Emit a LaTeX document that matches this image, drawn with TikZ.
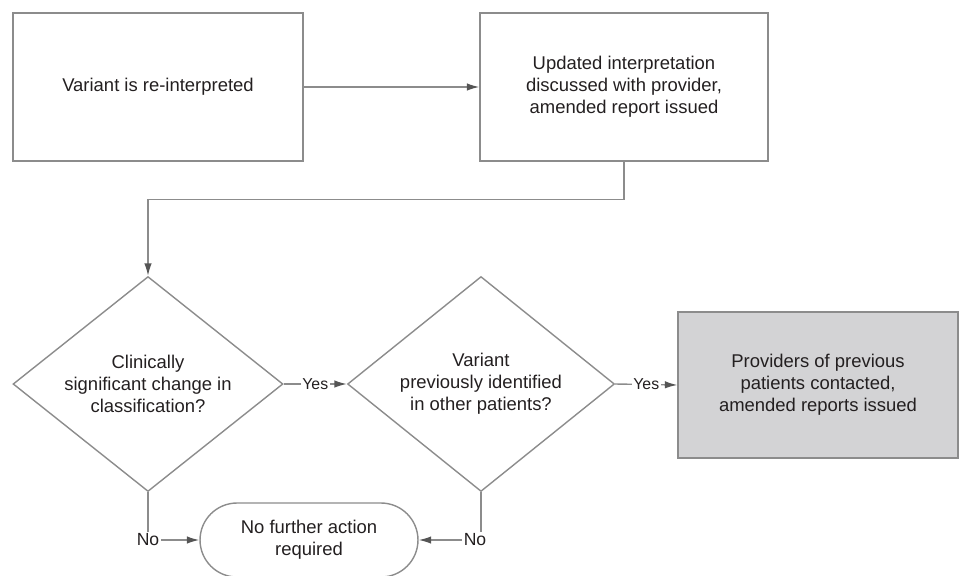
\documentclass[tikz,border=0pt]{standalone}
\usepackage{fontspec}
\setmainfont{Liberation Sans}
\usetikzlibrary{shapes,arrows.meta,positioning}
\definecolor{linegray}{HTML}{8C8C8C}
\definecolor{tipgray}{HTML}{555555}
\definecolor{txtgray}{HTML}{231F20}
\definecolor{boxfill}{HTML}{D3D3D5}

\begin{document}
\begin{tikzpicture}[x=0.02cm, y=-0.02cm,
	every node/.style={text=txtgray, font=\fontsize{10.5}{12.6}\selectfont, align=center},
	stepbox/.style={draw=linegray, line width=0.8pt, rectangle, minimum width=5.8cm, minimum height=2.96cm, inner sep=2pt},
	decision/.style={draw=linegray, line width=0.8pt, diamond, aspect=1.25, inner sep=0pt, minimum width=5.4cm, minimum height=4.3cm},
	endbox/.style={draw=linegray, line width=0.8pt, rectangle, rounded corners=0.74cm, minimum width=4.36cm, minimum height=1.48cm},
	yesno/.style={fill=white, inner sep=1pt, font=\fontsize{9}{10}\selectfont},
	nolabel/.style={inner sep=1pt, font=\fontsize{10}{11}\selectfont},
	link/.style={draw=linegray, line width=0.8pt, -{Latex[length=2.5mm, width=1.5mm, color=tipgray]}}]

	\useasboundingbox (0,0) rectangle (962,575);

	% top row
	\node[stepbox] (reint) at (158,87) {Variant is re-interpreted};
	\node[stepbox, minimum width=5.76cm] (upd) at (624,87) {Updated interpretation\\discussed with provider,\\amended report issued};

	% decisions
	\node[decision] (clin) at (148,384) {Clinically\\significant change in\\classification?};
	\node[decision, minimum width=5.34cm] (prev) at (481,384) {Variant\\previously identified\\in other patients?};
	\node[stepbox, fill=boxfill, minimum width=5.6cm, minimum height=2.92cm] (contact) at (818,385) {Providers of previous\\patients contacted,\\amended reports issued};

	% end
	\node[endbox] (noact) at (309,540) {No further action\\required};
	\node[nolabel] (no1) at (148,540) {No};
	\node[nolabel] (no2) at (475,540) {No};

	\draw[link] (reint) -- (upd);
	\draw[link] (upd.south) -- ++(0,38) -| (clin.north);
	\draw[link] (clin.east) -- node[yesno] {Yes} (prev.west);
	\draw[link] (prev.east) -- node[yesno] {Yes} (contact.west);
	\draw[draw=linegray, line width=0.8pt] (clin.south) -- (no1.north);
	\draw[draw=linegray, line width=0.8pt] (prev.south) -- (prev.south |- no2.north);
	\draw[link] (no1.east) -- (noact.west);
	\draw[link] (no2.west) -- (noact.east);

\end{tikzpicture}
\end{document}
